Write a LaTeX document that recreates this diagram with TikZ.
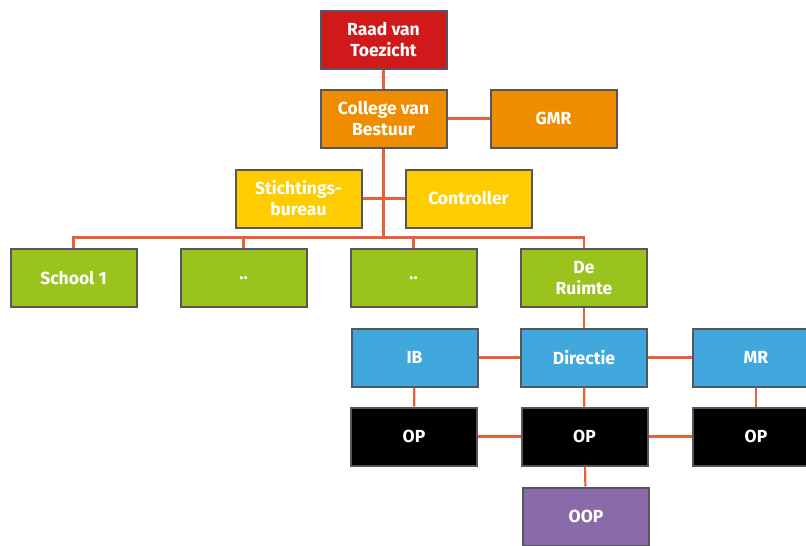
\documentclass[tikz,border=0pt]{standalone}
\usepackage{fontspec}
\setmainfont{Fira Sans}
\definecolor{cred}{HTML}{D0191A}
\definecolor{corange}{HTML}{F08C00}
\definecolor{cyellow}{HTML}{FFCC00}
\definecolor{cgreen}{HTML}{9BC31E}
\definecolor{cblue}{HTML}{41A8DE}
\definecolor{cpurple}{HTML}{8A6BAA}
\definecolor{cborder}{HTML}{55565E}
\definecolor{cline}{HTML}{E8603A}
\tikzset{
  orgbox/.style={draw=cborder, line width=2pt, fill=#1, minimum width=126pt, minimum height=58pt,
    text=white, font=\bfseries\fontsize{17.5}{21}\selectfont, align=center, inner sep=2pt},
  conn/.style={draw=cline, line width=2.2pt}
}
\begin{document}
\begin{tikzpicture}[x=1pt,y=-1pt]
\useasboundingbox (0,0) rectangle (806,546);
\clip (0,0) rectangle (806,546);
\node[orgbox=cred] (raad) at (383.5,39.5) {Raad van\\Toezicht};
\node[orgbox=corange] (college) at (383.5,118.5) {College van\\Bestuur};
\node[orgbox=corange] (gmr) at (553.5,118.5) {GMR};
\node[orgbox=cyellow] (stich) at (298.5,198.5) {Stichtings-\\bureau};
\node[orgbox=cyellow] (contr) at (468.5,198.5) {Controller};
\node[orgbox=cgreen] (s1) at (73.5,278) {School 1};
\node[orgbox=cgreen] (s2) at (243.5,278) {..};
\node[orgbox=cgreen] (s3) at (413.5,278) {..};
\node[orgbox=cgreen] (ruimte) at (584,278) {De\\Ruimte};
\node[orgbox=cblue] (ib) at (414.5,357.5) {IB};
\node[orgbox=cblue] (dir) at (584,357.5) {Directie};
\node[orgbox=cblue] (mr) at (756,357.5) {MR};
\node[orgbox=black] (op1) at (414,436.5) {OP};
\node[orgbox=black] (op2) at (584.5,436.5) {OP};
\node[orgbox=black] (op3) at (756,436.5) {OP};
\node[orgbox=cpurple] (oop) at (586,516.5) {OOP};
\coordinate (bus) at (383.5,237.5);
\path[conn] (raad) -- (college);
\path[conn] (college) -- (gmr);
\path[conn] (college.south) -- (college.south |- bus);
\path[conn] (stich) -- (contr);
\path[conn] (s1.north) -- (s1.north |- bus) -- (ruimte.north |- bus) -- (ruimte.north);
\path[conn] (s2.north) -- (s2.north |- bus);
\path[conn] (s3.north) -- (s3.north |- bus);
\path[conn] (ruimte) -- (dir);
\path[conn] (ib) -- (dir);
\path[conn] (dir) -- (mr);
\path[conn] (ib) -- (op1);
\path[conn] (dir) -- (op2);
\path[conn] (mr) -- (op3);
\path[conn] (op1) -- (op2);
\path[conn] (op2) -- (op3);
\path[conn] (op2) -- (oop);
\end{tikzpicture}
\end{document}
